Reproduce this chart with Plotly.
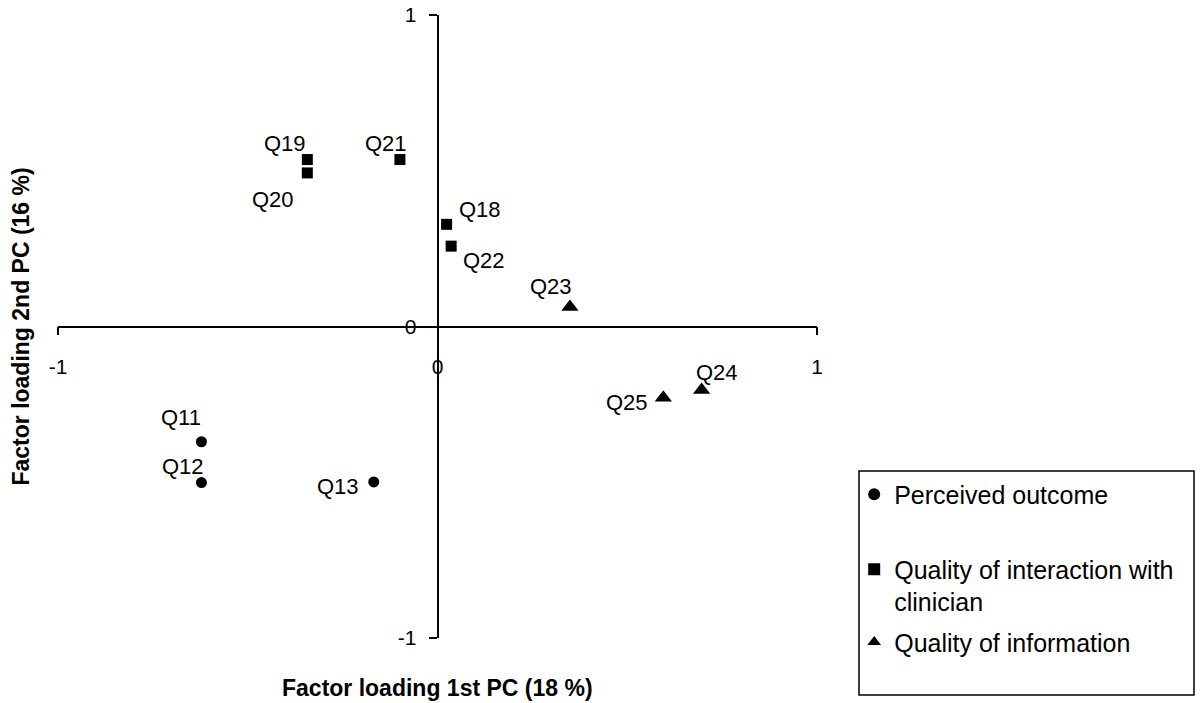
import plotly.graph_objects as go

# ---- data ----
outcome_labels = ["Q11", "Q12", "Q13"]
outcome_x = [-0.622, -0.622, -0.168]
outcome_y = [-0.370, -0.501, -0.499]

interaction_labels = ["Q18", "Q19", "Q20", "Q21", "Q22"]
interaction_x = [0.024, -0.343, -0.343, -0.099, 0.036]
interaction_y = [0.328, 0.536, 0.493, 0.536, 0.258]

information_labels = ["Q23", "Q24", "Q25"]
information_x = [0.349, 0.696, 0.595]
information_y = [0.063, -0.204, -0.229]

series_names = ["Perceived outcome", "Quality of interaction with<br>clinician", "Quality of information"]
tick_values = [-1, 0, 1]
tick_labels = ["-1", "0", "1"]
x_title = "Factor loading 1st PC (18 %)"
y_title = "Factor loading 2nd PC (16 %)"

# ---- styling: label offsets in pixels (dx, dy-up) ----
LABEL_SHIFT = {
    "Q11": (-20, 24), "Q12": (-18, 16), "Q13": (-36, -5),
    "Q18": (33, 15), "Q19": (-22, 16), "Q20": (-34, -27), "Q21": (-14, 16), "Q22": (33, -14),
    "Q23": (-19, 20), "Q24": (15, 18), "Q25": (-36, -5),
}

FONT = "Liberation Sans, Arial, sans-serif"

fig = go.Figure()

fig.add_trace(go.Scatter(
    x=outcome_x, y=outcome_y, mode="markers",
    name=series_names[0], legend="legend",
    marker=dict(symbol="circle", size=11, color="black"),
    cliponaxis=False,
))
fig.add_trace(go.Scatter(
    x=interaction_x, y=interaction_y, mode="markers",
    name=series_names[1], legend="legend2",
    marker=dict(symbol="square", size=11, color="black"),
    cliponaxis=False,
))
fig.add_trace(go.Scatter(
    x=information_x, y=information_y, mode="markers",
    name=series_names[2], legend="legend3",
    marker=dict(symbol="triangle-up", size=15, color="black"),
    cliponaxis=False,
))

annotations = []
for labels, xs, ys in [(outcome_labels, outcome_x, outcome_y),
                       (interaction_labels, interaction_x, interaction_y),
                       (information_labels, information_x, information_y)]:
    for lab, xv, yv in zip(labels, xs, ys):
        dx, dy = LABEL_SHIFT[lab]
        annotations.append(dict(
            text=lab, x=xv, y=yv, xref="x", yref="y", showarrow=False,
            xanchor="center", yanchor="middle", xshift=dx, yshift=dy,
            font=dict(family=FONT, size=22, color="black"),
        ))

annotations += [
    dict(text="<b>" + x_title + "</b>", xref="paper", yref="paper",
         x=0.5, y=-0.08, xanchor="center", yanchor="middle", showarrow=False,
         font=dict(family=FONT, size=23, color="black")),
    dict(text="<b>" + y_title + "</b>", xref="paper", yref="paper",
         x=-0.05, y=0.5, xanchor="center", yanchor="middle", showarrow=False,
         textangle=-90, font=dict(family=FONT, size=23, color="black")),
]

legend_common = dict(
    xanchor="left", yanchor="top",
    font=dict(family=FONT, size=25, color="black"),
    bgcolor="rgba(0,0,0,0)", borderwidth=0,
    valign="top", itemsizing="constant",
)

fig.update_layout(
    width=1200, height=703,
    margin=dict(l=58, r=383, t=15, b=65, autoexpand=False),
    paper_bgcolor="white", plot_bgcolor="white",
    font=dict(family=FONT, size=21, color="black"),
    xaxis=dict(
        range=[-1, 1], anchor="free", position=0.5, automargin=False,
        showline=True, linecolor="black", linewidth=1.5,
        ticks="outside", ticklen=8, tickwidth=1.5, tickcolor="black",
        tickvals=tick_values, ticktext=tick_labels,
        ticklabelstandoff=14,
        showgrid=False, zeroline=False,
        tickfont=dict(family=FONT, size=21, color="black"),
    ),
    yaxis=dict(
        range=[-1, 1], anchor="free", position=0.5, automargin=False,
        showline=True, linecolor="black", linewidth=1.5,
        ticks="outside", ticklen=8, tickwidth=1.5, tickcolor="black",
        tickvals=tick_values, ticktext=tick_labels,
        ticklabelstandoff=8,
        showgrid=False, zeroline=False,
        tickfont=dict(family=FONT, size=21, color="black"),
    ),
    legend=dict(x=1.0490, y=0.2674, **legend_common),
    legend2=dict(x=1.0490, y=0.147, **legend_common),
    legend3=dict(x=1.0490, y=0.0299, **legend_common),
    showlegend=True,
    annotations=annotations,
    shapes=[
        dict(type="rect", xref="paper", yref="paper",
             x0=(859 - 58) / 759, x1=(1194 - 58) / 759,
             y0=(638 - 695) / 623, y1=(638 - 471) / 623,
             line=dict(color="black", width=1.5), fillcolor="rgba(0,0,0,0)"),
    ],
)

fig.write_html("out.html", config={"displayModeBar": False},
               post_script="document.body.style.margin='0';")
